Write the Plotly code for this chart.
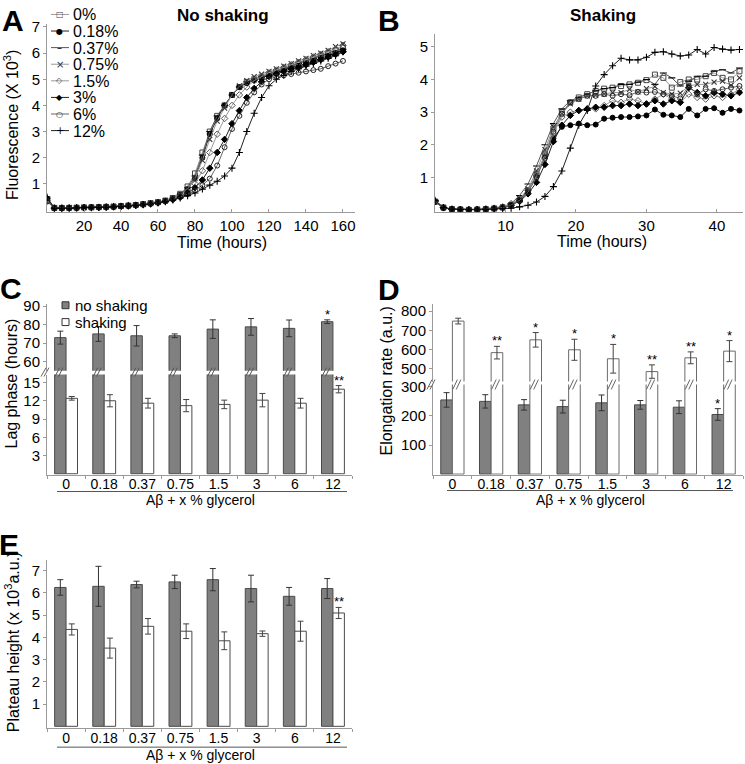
import plotly.graph_objects as go

W, H = 745, 764

# ---------------- DATA ----------------
conc_labels = ["0%", "0.18%", "0.37%", "0.75%", "1.5%", "3%", "6%", "12%"]

# Panel A: no shaking, fluorescence (x10^3) vs time (hours)
time_a = [0, 4, 8, 12, 16, 20, 24, 28, 32, 36, 40, 44, 48, 52, 56, 60, 64, 68, 72, 76,
          80, 84, 88, 92, 96, 100, 104, 108, 112, 116, 120, 124, 128, 132, 136, 140,
          144, 148, 152, 156, 160]
a_0 = [0.40, 0.08, 0.08, 0.08, 0.09, 0.10, 0.10, 0.11, 0.12, 0.13, 0.15, 0.17, 0.19, 0.22, 0.26, 0.30, 0.36, 0.46, 0.62,
       0.9, 1.4, 2.2, 3.0, 3.6, 4.0, 4.4, 4.7, 4.9, 5.0, 5.1, 5.2, 5.3, 5.4, 5.5, 5.6, 5.7, 5.8, 5.9, 6.0, 6.1, 6.2]
a_018 = [0.35, 0.07, 0.07, 0.08, 0.09, 0.09, 0.10, 0.11, 0.12, 0.13, 0.15, 0.17, 0.19, 0.22, 0.25, 0.29, 0.35, 0.44, 0.58,
         0.8, 1.2, 2.0, 2.9, 3.5, 4.0, 4.4, 4.7, 4.85, 4.95, 5.05, 5.15, 5.25, 5.35, 5.45, 5.5, 5.6, 5.7, 5.8, 5.9, 6.0, 6.1]
a_037 = [0.38, 0.08, 0.08, 0.08, 0.09, 0.10, 0.10, 0.11, 0.12, 0.13, 0.15, 0.17, 0.19, 0.22, 0.26, 0.30, 0.36, 0.45, 0.60,
         0.85, 1.3, 2.1, 3.0, 3.6, 4.0, 4.4, 4.7, 4.9, 5.0, 5.1, 5.2, 5.3, 5.4, 5.5, 5.6, 5.7, 5.8, 5.9, 5.95, 6.05, 6.15]
a_075 = [0.42, 0.08, 0.08, 0.09, 0.09, 0.10, 0.11, 0.11, 0.12, 0.14, 0.15, 0.17, 0.20, 0.23, 0.26, 0.30, 0.36, 0.45, 0.58,
         0.8, 1.2, 1.9, 2.7, 3.4, 3.9, 4.4, 4.75, 4.95, 5.1, 5.2, 5.3, 5.4, 5.5, 5.6, 5.7, 5.8, 5.9, 6.0, 6.1, 6.25, 6.35]
a_15 = [0.36, 0.08, 0.08, 0.08, 0.09, 0.10, 0.10, 0.11, 0.12, 0.13, 0.15, 0.16, 0.19, 0.22, 0.25, 0.29, 0.34, 0.42, 0.54,
        0.7, 1.0, 1.5, 2.2, 2.9, 3.5, 4.0, 4.4, 4.7, 4.95, 5.1, 5.25, 5.35, 5.45, 5.55, 5.65, 5.75, 5.85, 5.95, 6.05, 6.15, 6.3]
a_3 = [0.45, 0.07, 0.07, 0.08, 0.08, 0.09, 0.10, 0.10, 0.11, 0.12, 0.14, 0.16, 0.18, 0.21, 0.24, 0.28, 0.33, 0.40, 0.50,
       0.65, 0.85, 1.15, 1.6, 2.2, 2.7, 3.3, 3.8, 4.3, 4.65, 4.9, 5.1, 5.2, 5.3, 5.4, 5.45, 5.55, 5.65, 5.75, 5.85, 5.95, 6.05]
a_6 = [0.32, 0.08, 0.08, 0.08, 0.09, 0.09, 0.10, 0.11, 0.12, 0.13, 0.14, 0.16, 0.18, 0.21, 0.24, 0.28, 0.33, 0.40, 0.49,
       0.6, 0.75, 0.95, 1.2, 1.7, 2.4, 3.1, 3.6, 4.1, 4.5, 4.8, 5.0, 5.1, 5.15, 5.2, 5.25, 5.3, 5.35, 5.4, 5.5, 5.6, 5.7]
a_12 = [0.50, 0.07, 0.07, 0.07, 0.08, 0.09, 0.09, 0.10, 0.11, 0.12, 0.13, 0.15, 0.17, 0.20, 0.23, 0.27, 0.32, 0.38, 0.46,
        0.55, 0.65, 0.8, 0.95, 1.1, 1.3, 1.6, 2.2, 3.0, 3.7, 4.3, 4.75, 5.0, 5.15, 5.3, 5.4, 5.5, 5.6, 5.7, 5.8, 5.9, 6.05]

# Panel B: shaking
time_b = [0.0, 1.2, 2.4, 3.6, 4.8, 6.0, 7.2, 8.4, 9.6, 10.8, 12.0, 13.2, 14.4, 15.6, 16.8, 18.0, 19.2,
          20.4, 21.6, 22.8, 24.0, 25.2, 26.4, 27.6, 28.8, 30.0, 31.2, 32.4, 33.6, 34.8, 36.0, 37.2,
          38.4, 39.6, 40.8, 42.0, 43.2]
b_0 = [0.26, 0.08, 0.03, 0.02, 0.01, 0.02, 0.03, 0.05, 0.08,
       0.15, 0.3, 0.6, 1.1, 1.7, 2.5, 3.0, 3.3, 3.45, 3.55, 3.65, 3.72, 3.75, 3.8, 3.85, 3.9, 3.98,
       4.15, 4.05, 3.75, 3.92, 4.0, 4.0, 4.1, 4.2, 4.05, 4.0, 4.25]
b_018 = [0.25, 0.07, 0.03, 0.02, 0.01, 0.02, 0.03, 0.05, 0.09,
         0.17, 0.33, 0.6, 1.05, 1.65, 2.2, 2.55, 2.6, 2.65, 2.6, 2.62, 2.8, 2.83, 2.85, 2.85, 2.87, 2.9,
         3.08, 2.92, 2.9, 2.85, 3.1, 2.9, 3.1, 3.12, 2.98, 3.1, 3.05]
b_037 = [0.30, 0.08, 0.04, 0.02, 0.02, 0.02, 0.04, 0.06, 0.10,
         0.2, 0.45, 0.8, 1.35, 2.0, 2.65, 3.1, 3.35, 3.45, 3.55, 3.65, 3.72, 3.75, 3.85, 3.85, 3.92, 4.0,
         3.85, 4.2, 4.05, 3.8, 3.95, 4.1, 4.1, 4.25, 4.3, 4.2, 4.35]
b_075 = [0.27, 0.08, 0.03, 0.02, 0.01, 0.02, 0.03, 0.05, 0.09,
         0.17, 0.35, 0.65, 1.2, 1.85, 2.55, 2.95, 3.25, 3.4, 3.5, 3.52, 3.55, 3.6, 3.6, 3.7, 3.62, 3.72,
         3.78, 3.6, 3.55, 3.58, 3.8, 3.85, 3.85, 3.92, 3.95, 3.82, 4.05]
b_15 = [0.28, 0.08, 0.03, 0.02, 0.02, 0.02, 0.04, 0.06, 0.10,
        0.2, 0.35, 0.6, 1.05, 1.7, 2.35, 2.85, 3.0, 3.05, 3.1, 3.1, 3.2, 3.35, 3.3, 3.4, 3.35, 3.25,
        3.4, 3.55, 3.4, 3.3, 3.55, 3.45, 3.4, 3.5, 3.45, 3.55, 3.7]
b_3 = [0.27, 0.07, 0.03, 0.02, 0.01, 0.02, 0.03, 0.05, 0.08,
       0.15, 0.28, 0.5, 0.85, 1.4, 2.1, 2.6, 2.9, 3.05, 3.1, 3.15, 3.15, 3.2, 3.2, 3.25, 3.2, 3.25,
       3.35, 3.25, 3.35, 3.3, 3.75, 3.6, 3.5, 3.6, 3.55, 3.5, 3.6]
b_6 = [0.26, 0.08, 0.03, 0.02, 0.01, 0.02, 0.03, 0.05, 0.08,
       0.16, 0.3, 0.55, 1.0, 1.6, 2.4, 2.95, 3.3, 3.4, 3.5, 3.5, 3.55, 3.5, 3.55, 3.52, 3.62, 3.6,
       3.62, 3.55, 3.5, 3.42, 3.8, 3.55, 3.7, 3.65, 3.7, 3.75, 3.8]
b_12 = [0.30, 0.08, 0.03, 0.02, 0.01, 0.01, 0.02, 0.03, 0.05,
        0.06, 0.1, 0.15, 0.25, 0.42, 0.72, 1.2, 1.9, 2.6, 3.05, 3.8, 4.15, 4.42, 4.65, 4.6, 4.6, 4.68,
        4.83, 4.85, 4.78, 4.72, 4.75, 4.92, 4.78, 4.98, 4.93, 4.9, 4.92]

# Bar panels
categories = ["0", "0.18", "0.37", "0.75", "1.5", "3", "6", "12"]
bar_names = ["no shaking", "shaking"]

lag_noshake = [73.0, 75.0, 74.0, 74.0, 77.6, 78.8, 78.0, 81.6]
lag_noshake_err = [3.5, 4.0, 5.5, 1.0, 5.0, 4.5, 4.5, 1.0]
lag_shake = [12.4, 12.0, 11.6, 11.2, 11.4, 12.1, 11.6, 13.9]
lag_shake_err = [0.3, 1.0, 0.8, 1.0, 0.7, 1.1, 0.8, 0.6]
lag_sig_noshake = ["", "", "", "", "", "", "", "*"]
lag_sig_shake = ["", "", "", "", "", "", "", "**"]

elong_noshake = [255, 250, 238, 232, 245, 238, 230, 205]
elong_noshake_err = [25, 23, 18, 22, 27, 15, 22, 20]
elong_shake = [748, 583, 650, 598, 551, 484, 556, 591]
elong_shake_err = [15, 33, 38, 55, 75, 35, 31, 55]
elong_sig_noshake = ["", "", "", "", "", "", "", "*"]
elong_sig_shake = ["", "**", "*", "*", "*", "**", "**", "*"]

plat_noshake = [6.25, 6.30, 6.38, 6.50, 6.60, 6.20, 5.85, 6.20]
plat_noshake_err = [0.35, 0.90, 0.15, 0.30, 0.50, 0.60, 0.40, 0.45]
plat_shake = [4.36, 3.52, 4.50, 4.28, 3.85, 4.17, 4.28, 5.10]
plat_shake_err = [0.25, 0.45, 0.35, 0.33, 0.40, 0.12, 0.45, 0.25]
plat_sig_shake = ["", "", "", "", "", "", "", "**"]

# ---------------- STYLE ----------------
FONT = "Liberation Sans, Arial, sans-serif"
AXC = "#9a9a9a"
GRAY = "#808080"
EDGE = "#4a4a4a"

series_a = [a_0, a_018, a_037, a_075, a_15, a_3, a_6, a_12]
series_b = [b_0, b_018, b_037, b_075, b_15, b_3, b_6, b_12]
line_cols = ["#9a9a9a", "#222222", "#555555", "#9a9a9a", "#9a9a9a", "#222222", "#666666", "#222222"]
sym = ["square-open", "circle", "line-ew", "x-thin", "diamond-open", "diamond", "circle-open", "cross-thin"]
msize = [5, 5, 5, 5, 5, 5, 5, 5]
mcol = ["#444444", "#000000", "#000000", "#333333", "#555555", "#000000", "#222222", "#000000"]
glyphs = ["\u25A1", "\u25CF", "\u2013", "\u00D7", "\u25C7", "\u25C6", "\u25CB", "+"]


def px(x):
    return x / W


def py(y):
    return 1 - y / H


fig = go.Figure()


def marker_for(i):
    m = dict(symbol=sym[i], size=msize[i], color=mcol[i])
    if sym[i] in ("line-ew", "x-thin", "cross-thin"):
        m["line"] = dict(width=1.1, color=mcol[i])
    else:
        m["line"] = dict(width=1, color=mcol[i])
    return m


for i, name in enumerate(conc_labels):
    fig.add_trace(go.Scatter(x=time_a, y=series_a[i], mode="lines+markers", name=name,
                             line=dict(color=line_cols[i], width=1), marker=marker_for(i),
                             xaxis="x", yaxis="y", showlegend=False))
    fig.add_trace(go.Scatter(x=time_b, y=series_b[i], mode="lines+markers", name=name,
                             line=dict(color=line_cols[i], width=1), marker=marker_for(i),
                             xaxis="x2", yaxis="y2", showlegend=False))

xs = list(range(len(categories)))


def add_bars(xa, ya, vals_no, err_no, vals_sh, err_sh, sh_edge=EDGE):
    fig.add_trace(go.Bar(x=xs, y=vals_no, name=bar_names[0], xaxis=xa, yaxis=ya,
                         marker=dict(color=GRAY, line=dict(color=EDGE, width=1)),
                         error_y=dict(type="data", array=err_no, color="#333333", thickness=1, width=3),
                         showlegend=False))
    fig.add_trace(go.Bar(x=xs, y=vals_sh, name=bar_names[1], xaxis=xa, yaxis=ya,
                         marker=dict(color="white", line=dict(color=sh_edge, width=1)),
                         error_y=dict(type="data", array=err_sh, color="#444444", thickness=1, width=3),
                         showlegend=False))


# C: upper (y3) and lower (y4)
add_bars("x3", "y3", lag_noshake, lag_noshake_err, lag_shake, lag_shake_err)
add_bars("x3", "y4", lag_noshake, lag_noshake_err, lag_shake, lag_shake_err)
# D: upper (y5) and lower (y6)
add_bars("x4", "y5", elong_noshake, elong_noshake_err, elong_shake, elong_shake_err, "#6a6a6a")
add_bars("x4", "y6", elong_noshake, elong_noshake_err, elong_shake, elong_shake_err, "#6a6a6a")
# E
add_bars("x5", "y7", plat_noshake, plat_noshake_err, plat_shake, plat_shake_err)

tickf = dict(size=15, color="black", family=FONT)
catf = dict(size=14, color="black", family=FONT)


def yax(domain_px, rng, tickvals, anchor):
    return dict(domain=[py(domain_px[0]), py(domain_px[1])], range=rng, tickvals=tickvals,
                anchor=anchor, showline=True, linecolor=AXC, linewidth=1, showgrid=False,
                zeroline=False, ticks="outside", ticklen=3, tickcolor=AXC, tickfont=tickf,
                fixedrange=True)


def xcat(domain_px, anchor):
    return dict(domain=[px(domain_px[0]), px(domain_px[1])], range=[-0.5, 7.5],
                tickvals=xs, ticktext=categories, anchor=anchor, showline=True, linecolor=AXC,
                linewidth=1, showgrid=False, zeroline=False, ticks="", tickfont=catf,
                ticklabelstandoff=-3,
                minor=dict(tickvals=[k - 0.5 for k in range(9)], ticks="outside", ticklen=3,
                           tickcolor=AXC, showgrid=False),
                fixedrange=True)


fig.update_layout(
    width=W, height=H, margin=dict(l=0, r=0, t=0, b=0),
    paper_bgcolor="white", plot_bgcolor="white",
    font=dict(family=FONT, size=15, color="black"),
    barmode="group", bargap=0.4, bargroupgap=0,
    showlegend=False,
    xaxis=dict(domain=[px(47), px(355)], range=[0, 166.5], tickvals=[20, 40, 60, 80, 100, 120, 140, 160],
               anchor="y", showline=True, linecolor=AXC, showgrid=False, zeroline=False,
               ticks="inside", ticklen=3, tickcolor=AXC, tickfont=tickf, fixedrange=True),
    yaxis=yax((207, 17.5), [-0.08, 7.1], [1, 2, 3, 4, 5, 6, 7], "x"),
    xaxis2=dict(domain=[px(435), px(743)], range=[0, 43.7], tickvals=[10, 20, 30, 40],
                anchor="y2", showline=True, linecolor=AXC, showgrid=False, zeroline=False,
                ticks="inside", ticklen=3, tickcolor=AXC, tickfont=tickf, fixedrange=True),
    yaxis2=yax((207, 27), [-0.06, 5.4], [1, 2, 3, 4, 5], "x2"),
    xaxis3=xcat((47, 352), "y4"),
    yaxis3=yax((367, 300), [55.2, 91], [60, 70, 80, 90], "x3"),
    yaxis4=yax((472, 371), [-0.15, 16.3], [3, 6, 9, 12, 15], "x3"),
    xaxis4=xcat((433, 743), "y6"),
    yaxis5=yax((378, 300), [432, 836], [500, 600, 700, 800], "x4"),
    yaxis6=yax((472, 381), [-2, 308], [100, 200, 300], "x4"),
    xaxis5=xcat((47, 352), "y7"),
    yaxis7=yax((728, 558), [-0.09, 7.49], [1, 2, 3, 4, 5, 6, 7], "x5"),
)

ann = []
shapes = []


def text(x, y, s, size=15, bold=False, angle=0, xanchor="center", yanchor="middle", color="black", family=FONT):
    ann.append(dict(x=px(x), y=py(y), xref="paper", yref="paper", text=(f"<b>{s}</b>" if bold else s),
                    showarrow=False, textangle=angle, xanchor=xanchor, yanchor=yanchor,
                    font=dict(size=size, color=color, family=family)))


# panel letters
text(13, 14, "A", size=30, bold=True)
text(389, 14, "B", size=30, bold=True)
text(11, 284, "C", size=30, bold=True)
text(389, 285, "D", size=30, bold=True)
text(9, 542, "E", size=30, bold=True)

# titles
text(223, 9, "No shaking", size=17, bold=True)
text(603, 9, "Shaking", size=17, bold=True)
text(222, 238, "Time (hours)", size=16)
text(602, 237, "Time (hours)", size=16)

# y titles
text(11, 119, "Fluorescence (X 10<sup>3</sup>)", size=16, angle=-90)
text(12, 380, "Lag phase (hours)", size=16, angle=-90)
text(387, 378, "Elongation rate (a.u.)", size=16, angle=-90)
text(12, 641, "Plateau height (x 10<sup>3</sup>a.u.)", size=16, angle=-90)

# x group labels and underlines
for (x0, x1, yl, yt, xc, fs) in [(57, 347, 489, 498, 200, 14), (447, 733, 488, 498, 590, 14),
                                 (57, 347, 747, 755, 200, 14)]:
    shapes.append(dict(type="line", xref="paper", yref="paper", x0=px(x0), x1=px(x1), y0=py(yl), y1=py(yl),
                       line=dict(color="#555555", width=1)))
    text(xc, yt, "A\u03b2 + x % glycerol", size=fs)

# legend A (manual)
for i, name in enumerate(conc_labels):
    yy = 7.5 + i * 16.75
    shapes.append(dict(type="line", xref="paper", yref="paper", x0=px(51), x1=px(69), y0=py(yy), y1=py(yy),
                       line=dict(color=line_cols[i], width=1)))
    text(60, yy, glyphs[i], size=8 if glyphs[i] not in ("+", "\u00D7", "\u2013") else 10,
         color=mcol[i], family="DejaVu Sans")
    text(71, yy + 0.5, name, size=16, xanchor="left")

# legend C (manual)
for j, (yy, fillc) in enumerate([(301, GRAY), (318, "white")]):
    shapes.append(dict(type="rect", xref="paper", yref="paper", x0=px(62), x1=px(69), y0=py(yy + 3.5),
                       y1=py(yy - 3.5), fillcolor=fillc, line=dict(color="#333333", width=1)))
    text(73, yy, bar_names[j], size=15, xanchor="left")


# significance stars
def stars(xa, ya, vals, errs, sig, offs):
    for i, s in enumerate(sig):
        if s:
            ann.append(dict(x=i + offs, y=vals[i] + errs[i], xref=xa, yref=ya, text=s, showarrow=False,
                            yanchor="bottom", yshift=-4, font=dict(size=13, family=FONT, color="black")))


stars("x3", "y3", lag_noshake, lag_noshake_err, lag_sig_noshake, -0.15)
stars("x3", "y4", lag_shake, lag_shake_err, lag_sig_shake, 0.15)
stars("x4", "y6", elong_noshake, elong_noshake_err, elong_sig_noshake, -0.15)
stars("x4", "y5", elong_shake, elong_shake_err, elong_sig_shake, 0.15)
stars("x5", "y7", plat_shake, plat_shake_err, plat_sig_shake, 0.15)

# axis break hatches
for i in xs:
    cx = i - 0.15
    for d in (-0.09, 0.0):
        shapes.append(dict(type="line", xref="x3", yref="paper", x0=cx + d - 0.05, x1=cx + d + 0.07,
                           y0=py(373), y1=py(364), line=dict(color="#555555", width=1)))
    cx = i + 0.15
    for d in (-0.09, 0.0):
        shapes.append(dict(type="line", xref="x4", yref="paper", x0=cx + d - 0.05, x1=cx + d + 0.07,
                           y0=py(386), y1=py(376), line=dict(color="#666666", width=1)))
for (ax_x, y0, y1) in [(47, 373, 364), (433, 386, 376)]:
    for d in (-4, -1):
        shapes.append(dict(type="line", xref="paper", yref="paper", x0=px(ax_x + d - 2), x1=px(ax_x + d + 3),
                           y0=py(y0), y1=py(y1), line=dict(color="#666666", width=1)))

fig.update_layout(annotations=ann, shapes=shapes)
fig.write_html("out.html", config={"displayModeBar": False},
               post_script="document.body.style.margin='0';document.body.style.overflow='hidden';")
